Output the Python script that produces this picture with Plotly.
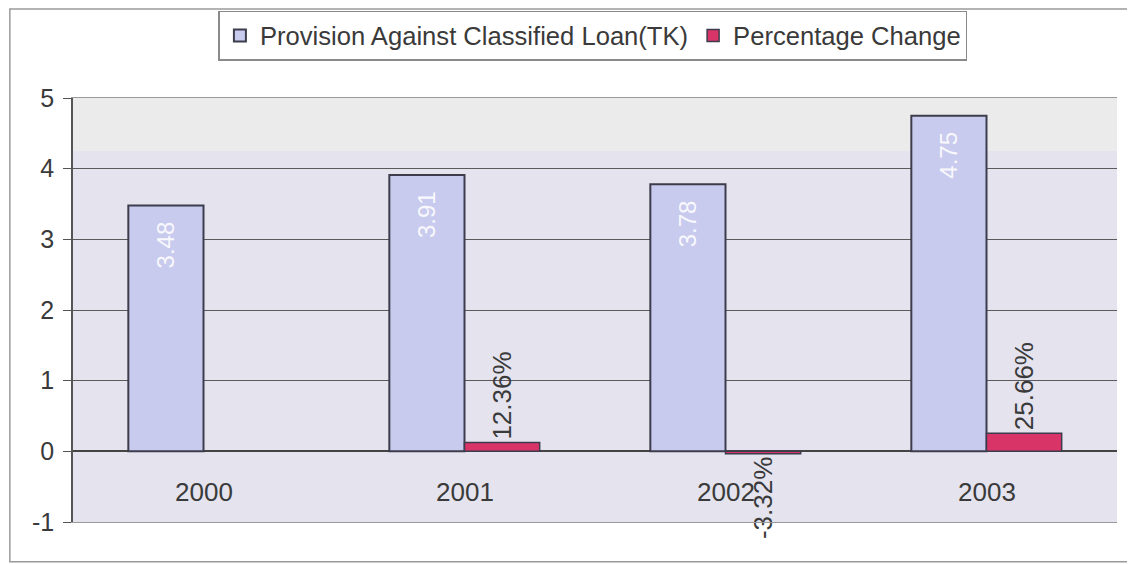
import plotly.graph_objects as go

years = ["2000", "2001", "2002", "2003"]
provision = [3.48, 3.91, 3.78, 4.75]
pct_change = [None, 0.1236, -0.0332, 0.2566]
provision_labels = ["3.48", "3.91", "3.78", "4.75"]
pct_labels = ["", "12.36%", "-3.32%", "25.66%"]
y_ticks = [-1, 0, 1, 2, 3, 4, 5]
y_tick_text = ["-1", "0", "1", "2", "3", "4", "5"]

FONT = "Arial, Liberation Sans, sans-serif"
TXT = "#3a3a3a"
PAD = "\u00a0\u00a0"

fig = go.Figure()
fig.add_trace(go.Bar(
    x=years, y=provision, name="Provision Against Classified Loan(TK)",
    marker=dict(color="#c9cbee", line=dict(color="#3c3c4c", width=2)),
    text=[t + PAD for t in provision_labels], textposition="inside", insidetextanchor="end",
    textangle=-90, insidetextfont=dict(color="rgba(255,255,255,0.9)", size=24, family=FONT),
    constraintext="none", cliponaxis=False,
))
fig.add_trace(go.Bar(
    x=years, y=pct_change, name="Percentage Change",
    marker=dict(color="#d83468", line=dict(color="#3c3c4c", width=1.5)),
    text=pct_labels, textposition="outside",
    textangle=-90, outsidetextfont=dict(color=TXT, size=26, family=FONT),
    constraintext="none", cliponaxis=False,
))

# category labels sit just below the zero line, inside the plot area
for i, yr in enumerate(years):
    fig.add_annotation(x=i, y=-0.57, xref="x", yref="y", text=yr, showarrow=False,
                       font=dict(size=26, color=TXT, family=FONT))

# lighter band at top of plot area (scan appearance)
fig.add_shape(type="rect", xref="paper", yref="y", x0=0, x1=1, y0=4.25, y1=5,
              fillcolor="#ebebeb", line=dict(width=0), layer="below")
# outer chart border
fig.add_shape(type="rect", xref="paper", yref="paper", x0=-0.0605, x1=1.016, y0=-0.094, y1=1.21,
              line=dict(color="#9a9a9a", width=1.5), fillcolor="rgba(0,0,0,0)")

fig.update_layout(
    width=1127, height=556,
    margin=dict(l=65, r=18, t=90, b=42),
    paper_bgcolor="white", plot_bgcolor="#e4e3ee",
    barmode="group", bargap=0.424, bargroupgap=0,
    font=dict(family=FONT, color=TXT, size=22),
    showlegend=True,
    legend=dict(orientation="h", xref="container", yref="container",
                x=0.519, xanchor="center", y=0.95, yanchor="middle",
                bordercolor="#8a8a8a", borderwidth=1.5, bgcolor="white",
                font=dict(size=25.6, color=TXT, family=FONT), itemwidth=30,
                traceorder="normal"),
    xaxis=dict(type="category", range=[-0.5, 3.5], showticklabels=False, showgrid=False,
               zeroline=False, showline=True, linecolor="#9a9a9a", mirror=True, ticks=""),
    yaxis=dict(range=[-1, 5], tickvals=y_ticks, ticktext=y_tick_text, showgrid=True,
               gridcolor="#5a5a5a", gridwidth=1, zeroline=True, zerolinecolor="#444",
               zerolinewidth=1.5, showline=True, linecolor="#555", linewidth=1.5,
               mirror=False, ticks="outside", ticklen=8, tickcolor="#555",
               ticklabelstandoff=4,
               tickfont=dict(size=25, color=TXT, family=FONT)),
)

fig.write_html("out.html")
